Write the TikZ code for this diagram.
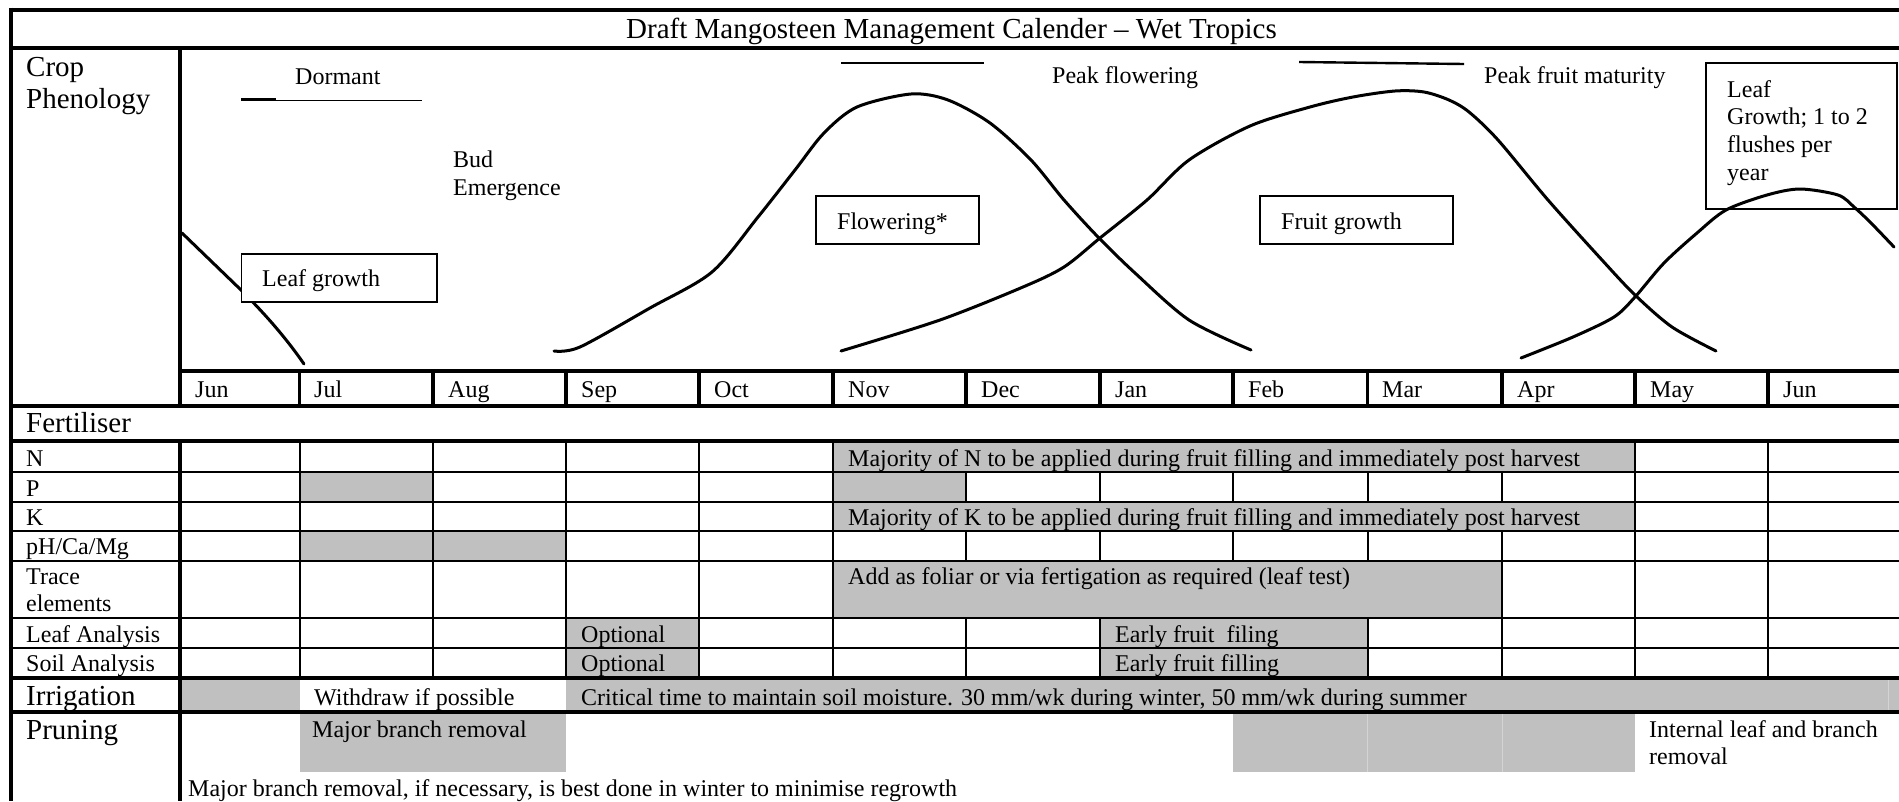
\documentclass[tikz,border=0pt]{standalone}
\usepackage{fontspec}
\setmainfont{Liberation Serif}
\definecolor{cellgrey}{RGB}{192,192,192}
\definecolor{seamgrey}{RGB}{212,212,212}
\begin{document}
\begin{tikzpicture}[x=1pt,y=-1pt,
  sm/.style={anchor=base west, inner sep=0pt, font=\fontsize{24}{27.6}\selectfont},
  lg/.style={anchor=base west, inner sep=0pt, font=\fontsize{29}{33}\selectfont},
  thk/.style={line width=4pt},
  mth/.style={line width=3.5pt},
  thn/.style={line width=2pt},
  cell/.style={fill=cellgrey},
  seam/.style={draw=seamgrey, line width=1pt},
  curve/.style={line width=3pt, line join=round, line cap=round},
  lbl/.style={draw, line width=1.8pt},
  peak/.style={line width=2.4pt}]

\useasboundingbox (0,0) rectangle (1899,801);
\fill[white] (0,0) rectangle (1899,801);

% ---------- grey cells ----------
\fill[cell] (833,441) rectangle (1635,471.5);
\fill[cell] (299.5,471.5) rectangle (433,501.5);
\fill[cell] (833,471.5) rectangle (966,501.5);
\fill[cell] (833,501.5) rectangle (1635,530.5);
\fill[cell] (299.5,530.5) rectangle (566,561);
\fill[cell] (833,561) rectangle (1502,617.5);
\fill[cell] (566,617.5) rectangle (699,678);
\fill[cell] (1100,617.5) rectangle (1367.5,678);
\fill[cell] (180,678) rectangle (299.5,712);
\fill[cell] (566,678) rectangle (1899,712);
\fill[cell] (299.5,712) rectangle (566,772);
\fill[cell] (1233,712) rectangle (1635,772);
\draw[seam] (1367.5,714) -- (1367.5,772);
\draw[seam] (1502,714) -- (1502,772);
\draw[seam] (1888,680) -- (1888,710);

% ---------- grid ----------
\foreach \y in {9.5,48,405.5,441,678,712} \draw[thk] (9,\y) -- (1899,\y);
\draw[thk] (178,371) -- (1899,371);
\foreach \y in {471.5,501.5,530.5,561,617.5,648} \draw[thn] (11,\y) -- (1899,\y);
\draw[thk] (11,7.5) -- (11,801);
\draw[thk] (180,46) -- (180,407.5);
\draw[thk] (180,439) -- (180,801);
\foreach \x in {299.5,433,566,699,833,966,1100,1233,1367.5,1502,1635,1768}
  \draw[mth] (\x,371) -- (\x,405.5);
\foreach \x in {299.5,433,566,699,833,1635,1768}
  \draw[thn] (\x,441) -- (\x,678);
\foreach \x in {966,1100,1367.5} {
  \draw[thn] (\x,471.5) -- (\x,501.5);
  \draw[thn] (\x,530.5) -- (\x,561);
  \draw[thn] (\x,617.5) -- (\x,678);
}
\draw[thn] (1233,471.5) -- (1233,501.5);
\draw[thn] (1233,530.5) -- (1233,561);
\draw[thn] (1502,471.5) -- (1502,501.5);
\draw[thn] (1502,530.5) -- (1502,678);

% ---------- title and row labels ----------
\node[lg] (title) at (626,38) {Draft Mangosteen Management Calender -- Wet Tropics};
\node[lg] (crop) at (26,76) {Crop};
\node[lg] (phen) at (26,108) {Phenology};
\node[lg] (fert) at (26,432) {Fertiliser};
\node[sm] (rn) at (26,466) {N};
\node[sm] (rp) at (26,496) {P};
\node[sm] (rk) at (26,525) {K};
\node[sm] (rph) at (26,554) {pH/Ca/Mg};
\node[sm] (rtr) at (26,584) {Trace};
\node[sm] (rel) at (26,611) {elements};
\node[sm] (rla) at (26,642) {Leaf Analysis};
\node[sm] (rsa) at (26,671) {Soil Analysis};
\node[lg] (irr) at (26,705) {Irrigation};
\node[lg] (prn) at (26,739) {Pruning};

% ---------- months ----------
\foreach \m/\x [count=\i] in {Jun/195,Jul/314,Aug/448,Sep/581,Oct/714,Nov/848,Dec/981,Jan/1115,Feb/1248,Mar/1382,Apr/1517,May/1650,Jun/1783}
  \node[sm] (mon\i) at (\x,397) {\m};

% ---------- cell texts ----------
\node[sm] (ntext) at (848,466) {Majority of N to be applied during fruit filling and immediately post harvest};
\node[sm] (ktext) at (848,525) {Majority of K to be applied during fruit filling and immediately post harvest};
\node[sm] (trtext) at (848,584) {Add as foliar or via fertigation as required (leaf test)};
\node[sm] (opt1) at (581,642) {Optional};
\node[sm] (opt2) at (581,671) {Optional};
\node[sm] (eff1) at (1115,642) {Early fruit\ \ filing};
\node[sm] (eff2) at (1115,671) {Early fruit filling};
\node[sm] (wdr) at (314,705) {Withdraw if possible};
\node[sm] (crit) at (581,705) {Critical time to maintain soil moisture. 30 mm/wk during winter, 50 mm/wk during summer};
\node[sm] (mbr) at (312,737) {Major branch removal};
\node[sm] (int1) at (1649,737) {Internal leaf and branch};
\node[sm] (int2) at (1649,764) {removal};
\node[sm] (note) at (188,796) {Major branch removal, if necessary, is best done in winter to minimise regrowth};

% ---------- phenology ----------
\node[sm] (dorm) at (295,84) {Dormant};
\draw[line width=3pt] (241,99) -- (276,99);
\draw[line width=1.3pt] (276,100.5) -- (422,100.5);
\node[sm] (bud1) at (453,167) {Bud};
\node[sm] (bud2) at (453,195) {Emergence};
\draw[peak] (841,63) -- (984,63);
\node[sm] (pkfl) at (1052,83) {Peak flowering};
\draw[peak] (1299,62) -- (1464,64);
\node[sm] (pkfr) at (1484,83) {Peak fruit maturity};

% leaf growth (start)
\draw[curve] (182,233) -- (240,289) .. controls (262,311) and (284,335) .. (304,364);
% flowering
\draw[curve] plot[smooth, tension=0.5] coordinates {(554,351) (580,347) (650,308) (712,272) (758,217) (795,170) (824,133) (857,107) (911,94) (948,100) (990,123) (1031,160) (1064,200) (1098,237) (1135,273) (1189,320) (1251,350)};
% fruit growth
\draw[curve] plot[smooth, tension=0.5] coordinates {(841,351) (940,320) (1023,287) (1064,267) (1100,238) (1147,200) (1189,160) (1250,126) (1310,107) (1353,97) (1395,91) (1424,92) (1449,100) (1469,112) (1498,140) (1548,200) (1602,260) (1635,295) (1672,327) (1716,351)};
% leaf growth (end)
\draw[curve] plot[smooth, tension=0.5] coordinates {(1521,358) (1573,337) (1614,317) (1635,297) (1664,263) (1697,233) (1726,210) (1767,195) (1800,189) (1838,195) (1854,207) (1871,223) (1894,247)};

% label boxes
\draw[lbl, fill=white] (241.5,254) rectangle (437,302);
\node[sm] (lg1) at (262,286) {Leaf growth};
\draw[lbl, fill=white] (816,196) rectangle (979,244);
\node[sm] (flw) at (837,229) {Flowering*};
\draw[lbl, fill=white] (1260,196) rectangle (1453,244);
\node[sm] (frg) at (1281,229) {Fruit growth};
\draw[lbl] (1706,63) rectangle (1897,209);
\node[sm] (lg2a) at (1727,97) {Leaf};
\node[sm] (lg2b) at (1727,124) {Growth; 1 to 2};
\node[sm] (lg2c) at (1727,152) {flushes per};
\node[sm] (lg2d) at (1727,180) {year};
\end{tikzpicture}
\end{document}
